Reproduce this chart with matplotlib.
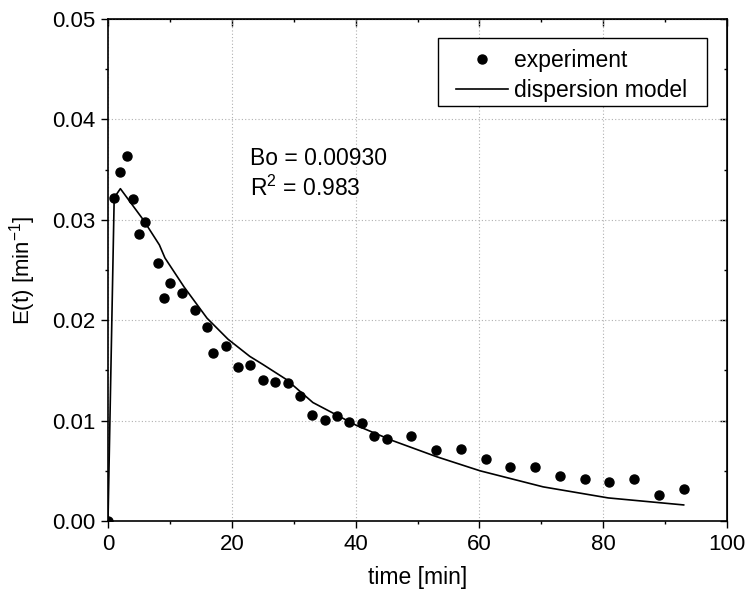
import matplotlib
matplotlib.use("Agg")
import matplotlib.pyplot as plt
from matplotlib.ticker import MultipleLocator, FormatStrFormatter
from matplotlib.patches import Rectangle

plt.rcParams['font.family'] = ['Liberation Sans', 'DejaVu Sans']
plt.rcParams['mathtext.fontset'] = 'custom'
plt.rcParams['mathtext.rm'] = 'Liberation Sans'

# experimental data
t_exp = [0, 1, 2, 3, 4, 5, 6, 8, 9, 10, 12, 14, 16, 17, 19, 21, 23, 25, 27, 29,
         31, 33, 35, 37, 39, 41, 43, 45, 49, 53, 57, 61, 65, 69, 73, 77, 81, 85,
         89, 93]
E_exp = [0.0, 0.0322, 0.0348, 0.0364, 0.0321, 0.0286, 0.0298, 0.0257, 0.0222,
         0.0237, 0.0227, 0.0210, 0.0193, 0.0167, 0.0174, 0.0153, 0.0155, 0.0140,
         0.0138, 0.0137, 0.0125, 0.0106, 0.0101, 0.0105, 0.0099, 0.0098, 0.0085,
         0.0082, 0.0085, 0.0071, 0.0072, 0.0062, 0.0054, 0.0054, 0.0045, 0.0042,
         0.0039, 0.0042, 0.0026, 0.0032]

# dispersion model
t_mod = [0, 1, 2, 5.7, 8.3, 9.2, 12.3, 16.0, 19.4, 22.9, 25.0, 28.8, 33.1,
         40.2, 46.0, 53.1, 60.1, 70.3, 80.8, 93.0]
E_mod = [0.0, 0.0322, 0.0331, 0.0300, 0.0275, 0.0262, 0.0233, 0.0202, 0.0181,
         0.0164, 0.0156, 0.0141, 0.0118, 0.0095, 0.0080, 0.0064, 0.0050, 0.0034,
         0.0023, 0.0016]

W, H = 748, 597
fig = plt.figure(figsize=(W / 100, H / 100), dpi=100)
ax = fig.add_axes([108 / W, 1 - 521 / H, (727 - 108) / W, (521 - 19) / H])

ax.plot(t_exp, E_exp, 'o', color='black', markersize=6.5, label='experiment', zorder=3)
ax.plot(t_mod, E_mod, '-', color='black', linewidth=1.2, label='dispersion model', zorder=2)

ax.set_xlim(0, 100)
ax.set_ylim(0, 0.05)
ax.xaxis.set_major_locator(MultipleLocator(20))
ax.xaxis.set_minor_locator(MultipleLocator(10))
ax.yaxis.set_major_locator(MultipleLocator(0.01))
ax.yaxis.set_minor_locator(MultipleLocator(0.005))
ax.yaxis.set_major_formatter(FormatStrFormatter('%.2f'))

ax.grid(True, which='major', linestyle=(0, (1, 2)), color='#b0b0b0', linewidth=0.8)

ax.tick_params(which='both', direction='out', top=False, right=False, labelsize=16, width=1.0, pad=4)
ax.tick_params(which='major', length=5)
ax.tick_params(which='minor', length=2.5)

# mirrored inward ticks on top and right
axt = ax.secondary_xaxis('top')
axt.xaxis.set_major_locator(MultipleLocator(20))
axt.xaxis.set_minor_locator(MultipleLocator(10))
axt.tick_params(which='both', direction='in', labeltop=False, width=1.0)
axt.tick_params(which='major', length=5)
axt.tick_params(which='minor', length=2.5)
axr = ax.secondary_yaxis('right')
axr.yaxis.set_major_locator(MultipleLocator(0.01))
axr.yaxis.set_minor_locator(MultipleLocator(0.005))
axr.tick_params(which='both', direction='in', labelright=False, width=1.0)
axr.tick_params(which='major', length=5)
axr.tick_params(which='minor', length=2.5)

for s in ax.spines.values():
    s.set_linewidth(1.2)

ax.set_xlabel('time [min]', fontsize=16.5, labelpad=8)
ax.set_ylabel('E(t) [min$^{-1}$]', fontsize=16, labelpad=10)

ax.text(22.9, 0.0361, 'Bo = 0.00930', fontsize=16.5, va='center', ha='left')
ax.text(22.9, 0.0331, 'R$^2$ = 0.983', fontsize=16.5, va='center', ha='left')

leg = ax.legend(loc='upper left', fontsize=16.5, frameon=False, borderpad=0,
                borderaxespad=0, handlelength=2.27, handletextpad=0.25,
                labelspacing=0.32, bbox_to_anchor=(456 / W, 1 - 49 / H),
                bbox_transform=fig.transFigure)
leg.set_zorder(6)
box = Rectangle((438 / W, 1 - 106 / H), (707 - 438) / W, (106 - 38) / H,
                transform=fig.transFigure, facecolor='white', edgecolor='black',
                linewidth=1.0, zorder=4.5)
ax.add_artist(box)

fig.savefig('out.png', dpi=100)
